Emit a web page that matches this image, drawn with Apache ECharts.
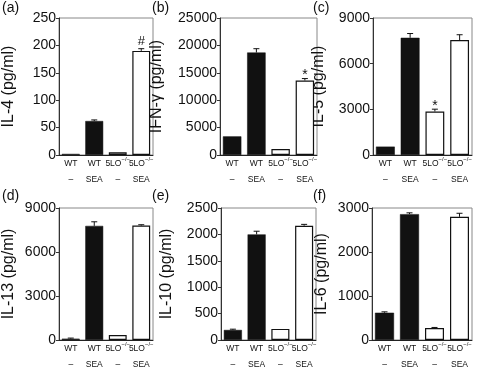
<!DOCTYPE html>
<html><head><meta charset="utf-8">
<script src="https://cdn.jsdelivr.net/npm/echarts@6/dist/echarts.min.js"></script>
<style>html,body{margin:0;padding:0;background:#fff}#c{width:480px;height:373px}</style>
</head><body><div id="c"></div>
<script>
// ---- data ----
const categories = ['WT\n–', 'WT\nSEA', '5LO{sup|−/−}\n–', '5LO{sup|−/−}\nSEA'];
const panelLabels = ['(a)', '(b)', '(c)', '(d)', '(e)', '(f)'];
const yNames = ['IL-4 (pg/ml)', 'IFN-γ (pg/ml)', 'IL-5 (pg/ml)', 'IL-13 (pg/ml)', 'IL-10 (pg/ml)', 'IL-6 (pg/ml)'];
const yMax = [250, 25000, 9000, 9000, 2500, 3000];
const yInterval = [50, 5000, 3000, 3000, 500, 1000];

const il4 = [2, 62, 5, 190];
const il4Err = [0, 2, 0, 4];
const il4Marks = ['', '', '', '#'];

const ifng = [3400, 18700, 1100, 13600];
const ifngErr = [0, 700, 0, 350];
const ifngMarks = ['', '', '', '*'];

const il5 = [550, 7700, 2860, 7550];
const il5Err = [0, 280, 150, 350];
const il5Marks = ['', '', '*', ''];

const il13 = [90, 7780, 340, 7800];
const il13Err = [40, 280, 0, 60];
const il13Marks = ['', '', '', ''];

const il10 = [190, 2000, 210, 2165];
const il10Err = [15, 60, 0, 25];
const il10Marks = ['', '', '', ''];

const il6 = [620, 2860, 270, 2800];
const il6Err = [20, 30, 15, 80];
const il6Marks = ['', '', '', ''];

const panelValues = [il4, ifng, il5, il13, il10, il6];
const panelErrors = [il4Err, ifngErr, il5Err, il13Err, il10Err, il6Err];
const panelMarks = [il4Marks, ifngMarks, il5Marks, il13Marks, il10Marks, il6Marks];
const barFills = ['#111', '#111', '#fff', '#fff'];

// ---- layout ----
const FONT = "'Liberation Sans', Arial, Helvetica, sans-serif";
const grids = [
  {left: 57, top: 18, width: 96, height: 137},
  {left: 220, top: 18, width: 97, height: 137},
  {left: 373, top: 18, width: 99, height: 137},
  {left: 57, top: 208, width: 96, height: 137},
  {left: 221, top: 208, width: 95, height: 137},
  {left: 372, top: 208, width: 100, height: 137}
];
const nameGaps = [42, 55, 46, 42, 46, 42];
const labelPos = [[2, 1], [152, 1], [313, 1], [2, 189], [152, 189], [313, 189]];

const option = {
  animation: false,
  textStyle: {fontFamily: FONT},
  grid: grids.map(g => Object.assign({show: true, borderColor: '#888', borderWidth: 1, containLabel: false}, g)),
  xAxis: grids.map((g, i) => ({
    type: 'category', gridIndex: i, data: categories,
    axisLine: {lineStyle: {color: '#222', width: 1}},
    axisTick: {show: false},
    axisLabel: {
      interval: 0, hideOverlap: false, fontSize: 8.5, lineHeight: 16, margin: 1, color: '#111', fontFamily: FONT,
      rich: {sup: {fontSize: 6, lineHeight: 10, verticalAlign: 'top', color: '#111', fontFamily: FONT}}
    },
    splitLine: {show: false}
  })),
  yAxis: grids.map((g, i) => ({
    type: 'value', gridIndex: i, min: 0, max: yMax[i], interval: yInterval[i],
    name: yNames[i], nameLocation: 'middle', nameGap: nameGaps[i], nameRotate: 90,
    nameTextStyle: {fontSize: 16, color: '#111', fontFamily: FONT},
    axisLine: {show: true, lineStyle: {color: '#333', width: 1}},
    axisTick: {show: true, length: 3, lineStyle: {color: '#333'}},
    axisLabel: {fontSize: 14, color: '#111', margin: 3, fontFamily: FONT, formatter: v => String(v)},
    splitLine: {show: false}
  })),
  graphic: labelPos.map((p, i) => ({
    type: 'text', left: p[0], top: p[1],
    style: {text: panelLabels[i], fontSize: 14, fill: '#111', fontFamily: FONT}
  })),
  series: []
};

panelValues.forEach((vals, i) => {
  option.series.push({
    type: 'bar', xAxisIndex: i, yAxisIndex: i,
    barCategoryGap: '24%',
    data: vals.map((v, k) => ({
      value: v,
      itemStyle: {color: barFills[k], borderColor: '#111', borderWidth: k >= 2 ? 1.2 : 0.5}
    }))
  });
  const errs = panelErrors[i], marks = panelMarks[i];
  option.series.push({
    type: 'custom', xAxisIndex: i, yAxisIndex: i, z: 5,
    data: vals.map((v, k) => [k, v, errs[k]]),
    encode: {x: 0, y: 1},
    renderItem: (params, api) => {
      const k = api.value(0), v = api.value(1), e = api.value(2);
      const p0 = api.coord([k, v]);
      const p1 = api.coord([k, v + e]);
      const children = [];
      if (e > 0) {
        children.push({type: 'line', shape: {x1: p0[0], y1: p0[1], x2: p1[0], y2: p1[1]}, style: {stroke: '#111', lineWidth: 1}});
        children.push({type: 'line', shape: {x1: p1[0] - 3, y1: p1[1], x2: p1[0] + 3, y2: p1[1]}, style: {stroke: '#111', lineWidth: 1}});
      }
      const m = marks[params.dataIndex];
      if (m) {
        const isStar = m === '*';
        children.push({type: 'text', style: {
          text: m, x: p1[0], y: p1[1] + (isStar ? 4 : -1), align: 'center', verticalAlign: 'bottom',
          fontSize: isStar ? 14 : 13, fill: '#111', fontFamily: FONT
        }});
      }
      return {type: 'group', children};
    }
  });
});

const chart = echarts.init(document.getElementById('c'), null, {renderer: 'canvas'});
chart.setOption(option);
</script>
</body></html>
